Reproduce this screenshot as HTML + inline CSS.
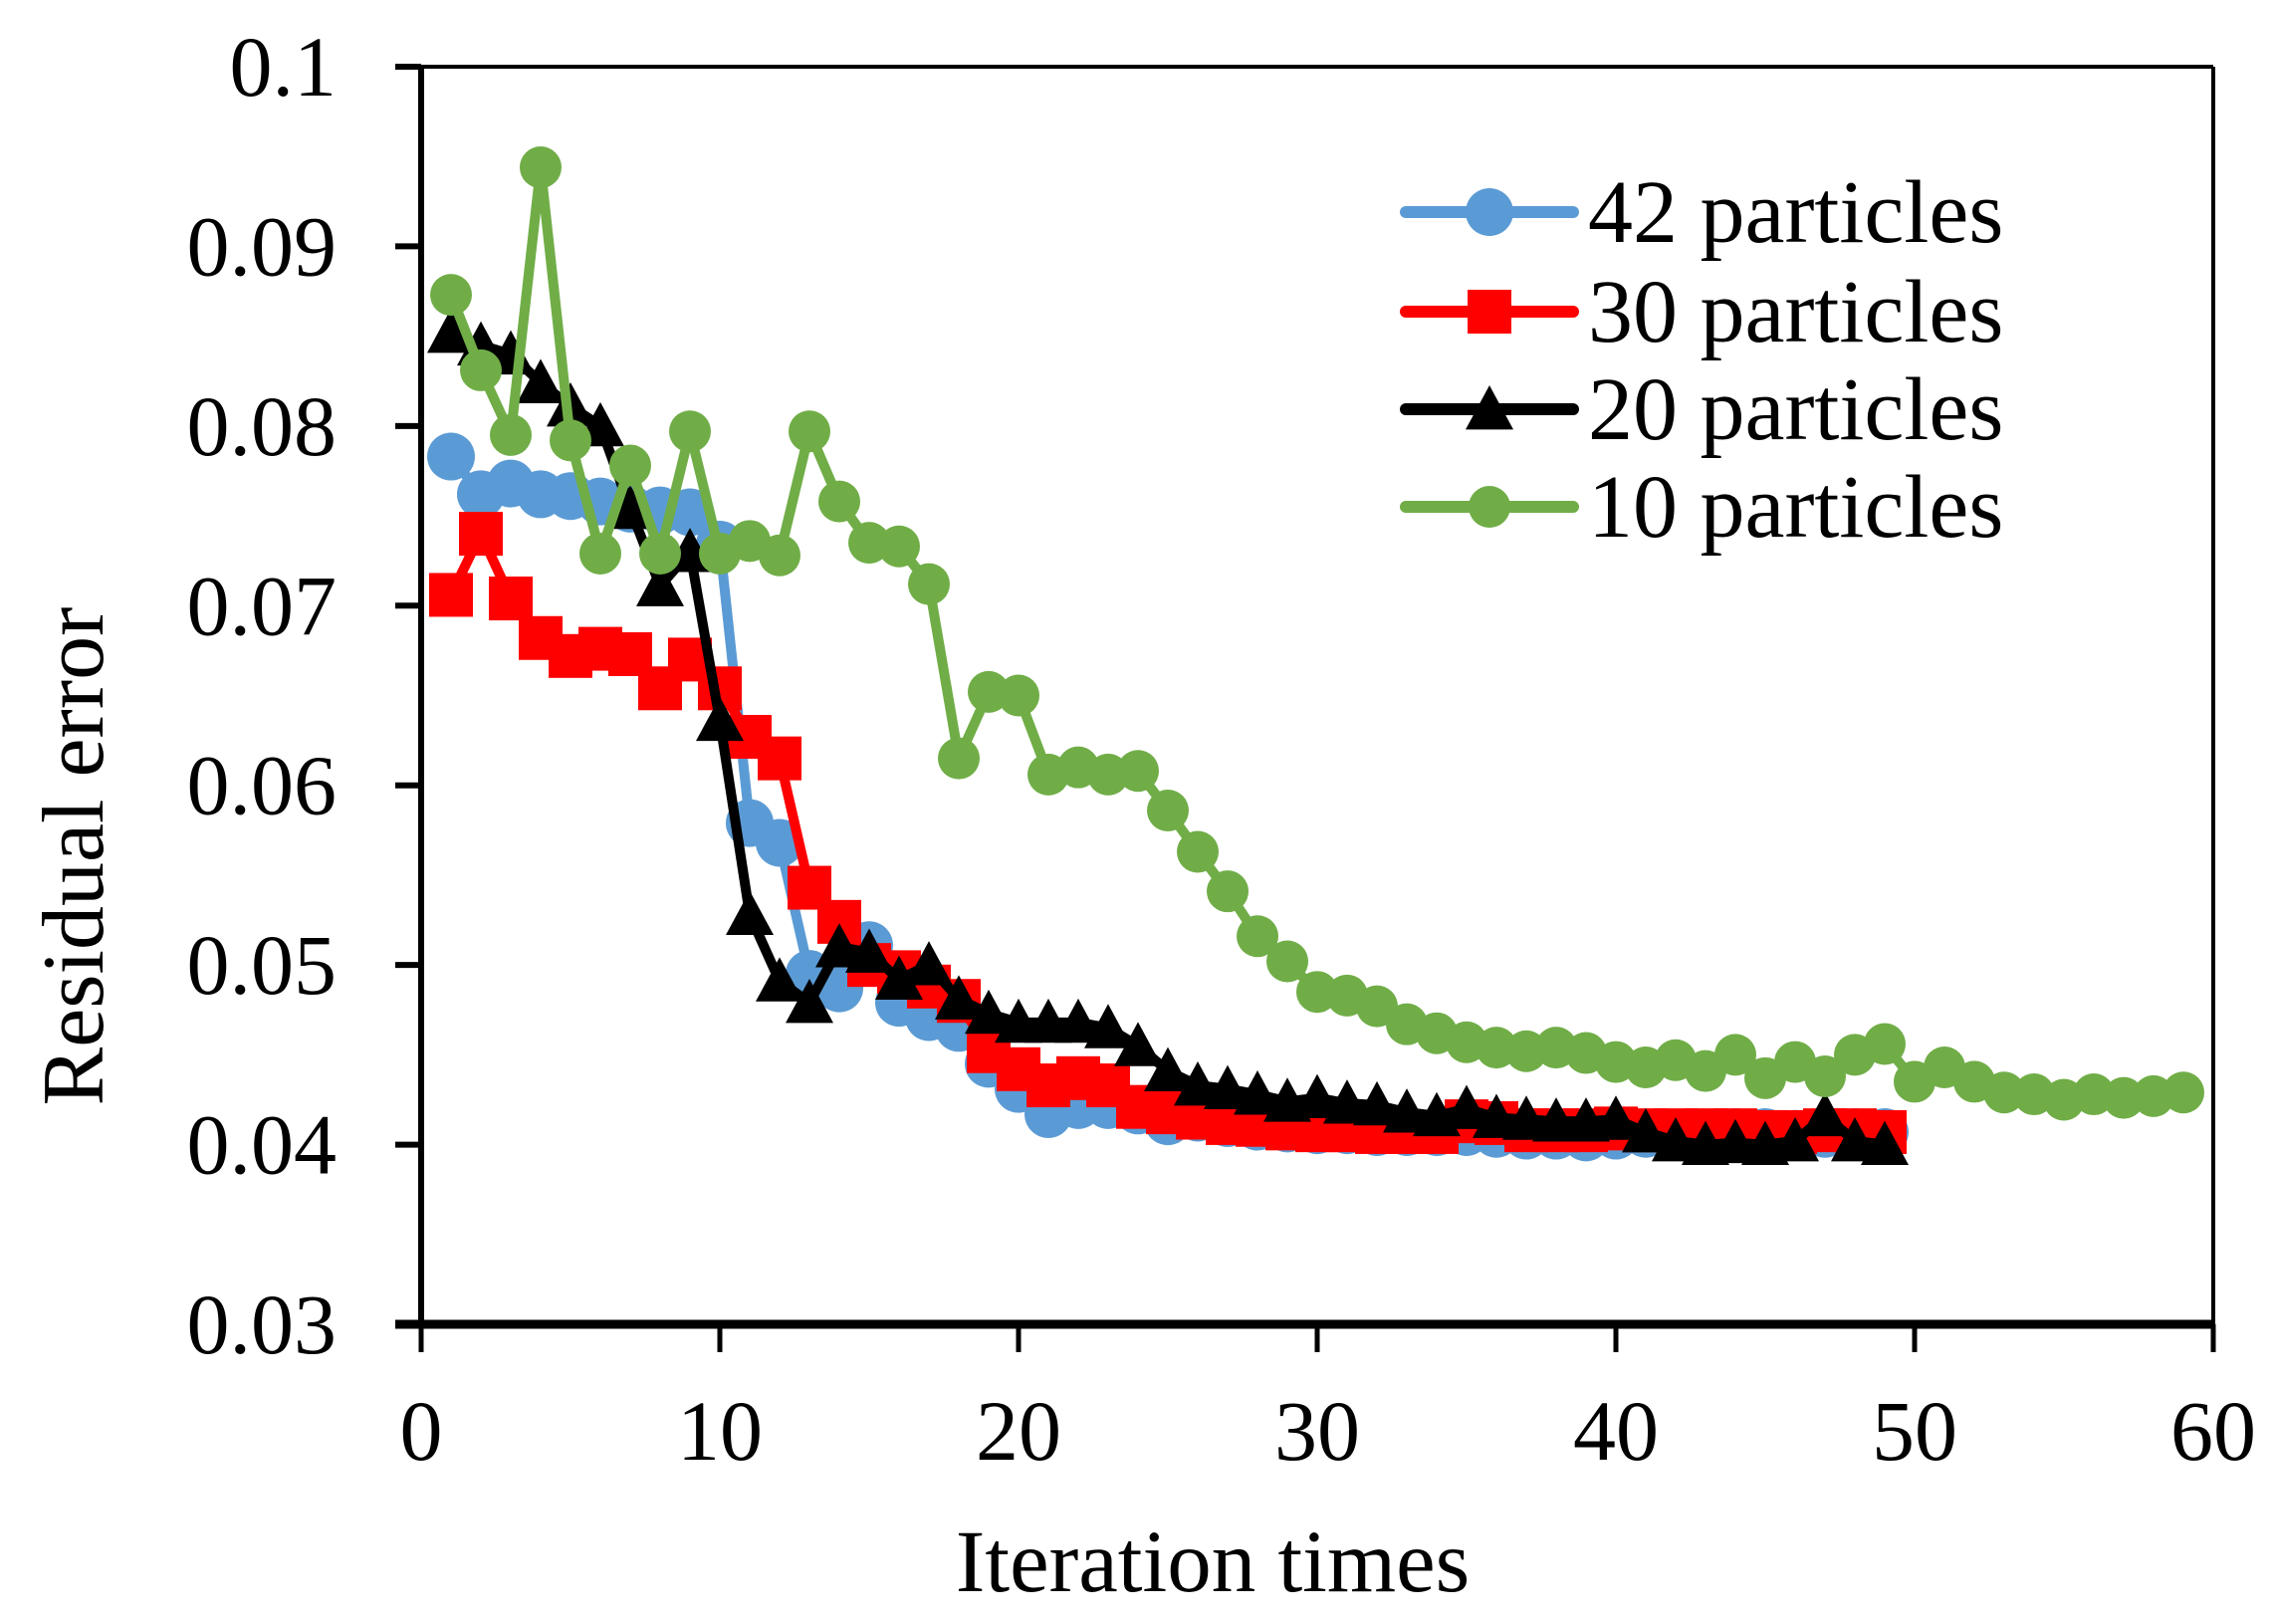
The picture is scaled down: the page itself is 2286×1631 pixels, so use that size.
<!DOCTYPE html>
<html><head><meta charset="utf-8"><style>
html,body{margin:0;padding:0;background:#fff;}
svg{display:block;font-family:"Liberation Serif",serif;}
</style></head><body>
<svg id="chart" width="2286" height="1631" viewBox="0 0 2286 1631">
<g id="axes"></g>
<g id="series"></g>
<g id="legend"></g>
</svg>
<script>
const xTicks = [0,10,20,30,40,50,60];
const yTicks = [0.03,0.04,0.05,0.06,0.07,0.08,0.09,0.1];
const yTickLabels = ["0.03","0.04","0.05","0.06","0.07","0.08","0.09","0.1"];
const seriesNames = ["42 particles","30 particles","20 particles","10 particles"];
const s42 = [0.0783,0.0762,0.0768,0.0762,0.0761,0.0758,0.0754,0.0753,0.0752,0.0734,0.0579,0.0568,0.0495,0.0487,0.0511,0.0479,0.0471,0.0465,0.0445,0.0431,0.0417,0.0422,0.0422,0.0419,0.0413,0.0415,0.0412,0.0410,0.0409,0.0408,0.0408,0.0407,0.0407,0.0407,0.0407,0.0406,0.0405,0.0405,0.0404,0.0405,0.0406,0.0406,0.0406,0.0407,0.0407,0.0406,0.0406,0.0407,0.0407];
const s30 = [0.0706,0.0740,0.0704,0.0682,0.0672,0.0676,0.0673,0.0654,0.0670,0.0654,0.0627,0.0615,0.0543,0.0524,0.0500,0.0496,0.0488,0.0480,0.0452,0.0442,0.0433,0.0437,0.0433,0.0421,0.0418,0.0415,0.0412,0.0411,0.0409,0.0408,0.0408,0.0407,0.0407,0.0407,0.0413,0.0412,0.0408,0.0408,0.0408,0.0409,0.0408,0.0408,0.0408,0.0408,0.0407,0.0407,0.0408,0.0408,0.0407];
const s20 = [0.0852,0.0845,0.0840,0.0824,0.0811,0.0800,0.0754,0.0711,0.0730,0.0636,0.0528,0.0491,0.0479,0.0510,0.0507,0.0492,0.0500,0.0481,0.0473,0.0468,0.0468,0.0468,0.0465,0.0455,0.0441,0.0433,0.0431,0.0428,0.0424,0.0426,0.0423,0.0422,0.0418,0.0416,0.0420,0.0415,0.0414,0.0413,0.0413,0.0414,0.0407,0.0402,0.0400,0.0401,0.0400,0.0402,0.0416,0.0402,0.0400];
const s10 = [0.0873,0.0831,0.0795,0.0944,0.0792,0.0729,0.0778,0.0729,0.0797,0.0729,0.0736,0.0728,0.0797,0.0758,0.0735,0.0733,0.0712,0.0615,0.0652,0.0650,0.0606,0.0610,0.0606,0.0608,0.0586,0.0563,0.0541,0.0516,0.0502,0.0485,0.0483,0.0477,0.0467,0.0462,0.0457,0.0454,0.0452,0.0454,0.0451,0.0446,0.0443,0.0447,0.0441,0.0450,0.0437,0.0446,0.0438,0.0450,0.0456,0.0435,0.0443,0.0435,0.0429,0.0428,0.0425,0.0428,0.0426,0.0427,0.0429];

const NS="http://www.w3.org/2000/svg";
const X0=423,X1=2223,Y0=1330,Y1=67;
function xs(v){return X0+(v-0)/(60-0)*(X1-X0);}
function ys(v){return Y0-(v-0.03)/(0.1-0.03)*(Y0-Y1);}
function mk(tag,attrs,parent){const e=document.createElementNS(NS,tag);for(const k in attrs)e.setAttribute(k,attrs[k]);parent.appendChild(e);return e;}
const axes=document.getElementById('axes');
let e;
e=mk('line',{x1:X0,y1:Y1,x2:X1,y2:Y1,stroke:'#000','stroke-width':4},axes);


e=mk('line',{x1:X1,y1:Y1,x2:X1,y2:Y0,stroke:'#000','stroke-width':4},axes);


e=mk('line',{x1:X0,y1:Y1-2,x2:X0,y2:Y0,stroke:'#000','stroke-width':6},axes);


e=mk('line',{x1:X0-26,y1:Y0,x2:X1+2,y2:Y0,stroke:'#000','stroke-width':9},axes);


yTicks.forEach((v,i)=>{
  const y=ys(v);
  const t=mk('line',{x1:X0-26,y1:y,x2:X0,y2:y,stroke:'#000','stroke-width':6},axes);
  
  
  const l=mk('text',{x:338,y:y+29,'text-anchor':'end','font-size':86},axes);
  l.textContent=yTickLabels[i];
  
  
});
xTicks.forEach(v=>{
  const x=xs(v);
  const t=mk('line',{x1:x,y1:Y0,x2:x,y2:Y0+28,stroke:'#000','stroke-width':5},axes);
  
  
  const l=mk('text',{x:x,y:1466,'text-anchor':'middle','font-size':86},axes);
  l.textContent=String(v);
  
  
});
e=mk('text',{x:1218,y:1598,'text-anchor':'middle','font-size':89},axes);
e.textContent='Iteration times';


e=mk('text',{x:0,y:0,'text-anchor':'middle','font-size':88,transform:'translate(103,860) rotate(-90)'},axes);
e.textContent='Residual error';



const colors=['#5B9BD5','#FF0000','#000000','#70AD47'];
const shapes=['circle','square','triangle','circle'];
const sizes=[24,22,24,21];
const data=[s42,s30,s20,s10];
function marker(shape,x,y,r,c,parent){
  if(shape==='circle') return mk('circle',{cx:x,cy:y,r:r,fill:c},parent);
  if(shape==='square') return mk('rect',{x:x-r,y:y-r,width:2*r,height:2*r,fill:c},parent);
  return mk('polygon',{points:`${x},${y-r} ${x+r},${y+r*0.85} ${x-r},${y+r*0.85}`,fill:c},parent);
}
const sg=document.getElementById('series');
data.forEach((arr,si)=>{
  const g=mk('g',{},sg);
  
  
  const pts=arr.map((v,i)=>xs(i+1)+','+ys(v)).join(' ');
  const pl=mk('polyline',{points:pts,fill:'none',stroke:colors[si],'stroke-width':10,'stroke-linejoin':'round'},g);
  
  
  arr.forEach((v,i)=>{
    const m=marker(shapes[si],xs(i+1),ys(v),sizes[si],colors[si],g);
    
    
  });
});
const lg=document.getElementById('legend');
const rowsY=[213,313,411,509];
seriesNames.forEach((n,i)=>{
  const g=mk('g',{},lg);
  
  
  mk('line',{x1:1412,y1:rowsY[i],x2:1580,y2:rowsY[i],stroke:colors[i],'stroke-width':12,'stroke-linecap':'round'},g);
  marker(shapes[i],1496,rowsY[i],sizes[i],colors[i],g);
  const t=mk('text',{x:1595,y:rowsY[i]+30,'font-size':90},g);
  t.textContent=n;
});
</script>
</body></html>
